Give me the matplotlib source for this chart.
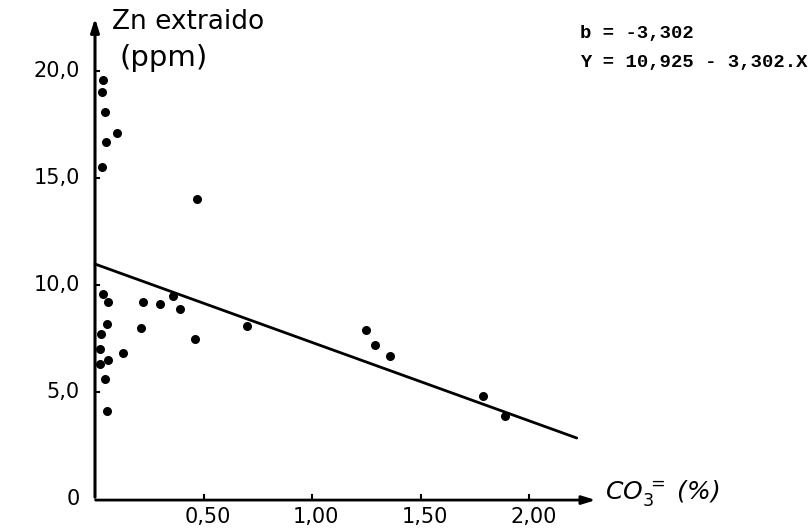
import matplotlib
matplotlib.use("Agg")
import matplotlib.pyplot as plt

# CO3= (%) vs Zn extraido (ppm)
co3 = [0.037, 0.032, 0.046, 0.10, 0.05, 0.03, 0.47,
       0.037, 0.06, 0.22, 0.30, 0.39, 0.36, 0.055, 0.21, 0.028,
       0.46, 0.023, 0.06, 0.13, 0.023, 0.046, 0.055,
       0.70, 1.25, 1.29, 1.36, 1.79, 1.89]
zn = [19.6, 19.0, 18.1, 17.1, 16.7, 15.5, 14.0,
      9.6, 9.2, 9.2, 9.1, 8.9, 9.5, 8.2, 8.0, 7.7,
      7.5, 7.0, 6.5, 6.8, 6.3, 5.6, 4.1,
      8.1, 7.9, 7.2, 6.7, 4.8, 3.9]

# regression line as drawn on the chart (ends)
line_x = [0.0, 2.22]
line_y = [10.98, 2.85]

yticks = [0, 5, 10, 15, 20]
ytick_labels = ["0", "5,0", "10,0", "15,0", "20,0"]
xticks = [0.5, 1.0, 1.5, 2.0]
xtick_labels = ["0,50", "1,00", "1,50", "2,00"]

eq_lines = ["b = -3,302", "Y = 10,925 - 3,302.X"]

# pixel scale of the scan: origin at (95, 499) px, 217 px per % and 21.4 px per ppm
W, H = 808, 531
px_x, px_y = 217.0, 21.4
ox, oy = 95.0, 499.0

fig = plt.figure(figsize=(W / 100, H / 100), dpi=100)
ax = fig.add_axes([0, 0, 1, 1])
ax.set_xlim(-ox / px_x, (W - ox) / px_x)
ax.set_ylim(-(H - oy) / px_y, oy / px_y)
ax.axis("off")

# axes with arrows
ax.annotate("", xy=(0, 22.6), xytext=(0, -0.05),
            arrowprops=dict(arrowstyle="-|>,head_length=0.8,head_width=0.25", lw=2.2, color="black"))
ax.annotate("", xy=(2.32, -0.05), xytext=(-0.01, -0.05),
            arrowprops=dict(arrowstyle="-|>,head_length=0.8,head_width=0.25", lw=2.0, color="black"))

for t in xticks:
    ax.plot([t, t], [-0.05, 0.2], color="black", lw=1.5)
for t in yticks[1:]:
    ax.plot([0, 0.02], [t, t], color="black", lw=1.5)

ax.plot(line_x, line_y, color="black", lw=2.0, solid_capstyle="round")

ax.scatter(co3, zn, s=30, color="black", zorder=3)

for t, lab in zip(yticks, ytick_labels):
    ax.text(-0.07, t, lab, ha="right", va="center", fontsize=15, family="DejaVu Sans")
for t, lab in zip(xticks, xtick_labels):
    ax.text(t + 0.02, -0.85, lab, ha="center", va="center", fontsize=15, family="DejaVu Sans")

ax.text(0.078, 22.3, "Zn extraido", ha="left", va="center", fontsize=19)
ax.text(0.115, 20.6, "(ppm)", ha="left", va="center", fontsize=21)
ax.text(2.35, 0.3, r"$\mathit{CO}_3^{\,=}$ (%)", ha="left", va="center", fontsize=18, style="italic")

ax.text(2.235, 21.75, eq_lines[0], ha="left", va="center", fontsize=13.6,
        family="Liberation Mono", weight="bold")
ax.text(2.235, 20.4, eq_lines[1], ha="left", va="center", fontsize=13.6,
        family="Liberation Mono", weight="bold")

fig.savefig("out.png", dpi=100, facecolor="white")
